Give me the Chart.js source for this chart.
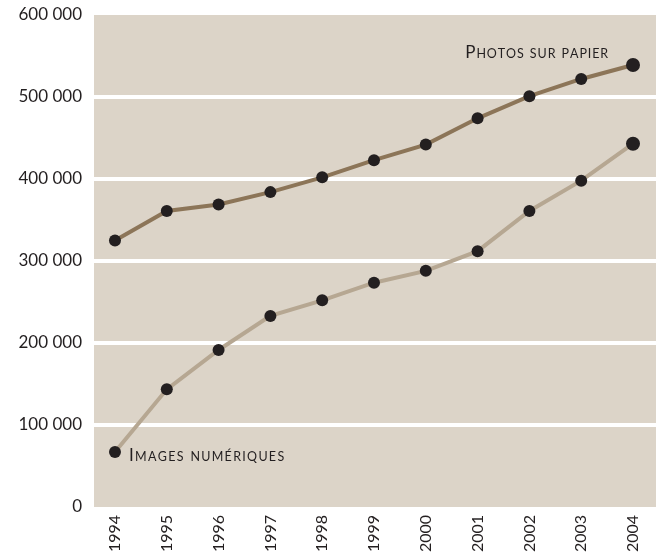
<!DOCTYPE html>
<html>
<head>
<meta charset="utf-8">
<script src="https://cdn.jsdelivr.net/npm/chart.js@4/dist/chart.umd.min.js"></script>
<style>
html,body{margin:0;padding:0;background:#fff;}
#wrap{width:656px;height:555px;position:relative;}
</style>
</head>
<body>
<div id="wrap"><canvas id="c" width="656" height="555"></canvas></div>
<script>
const years = [1994,1995,1996,1997,1998,1999,2000,2001,2002,2003,2004];
const photosPapier = [325000,361000,369000,384000,402000,423000,442000,474000,501000,522000,539000];
const imagesNumeriques = [67000,143500,191500,233000,252000,273500,288000,312000,361000,398000,443000];
const yTicks = [0,100000,200000,300000,400000,500000,600000];
const seriesLabels = ['Photos sur papier','Images numériques'];

const FONT = 'Lato, "Open Sans", sans-serif';
const INK = '#231f20';

function fmt(v){ return String(v).replace(/\B(?=(\d{3})+(?!\d))/g,' '); }

const bgPlugin = {
  id:'bg',
  beforeDraw(chart){
    const {ctx, chartArea:a} = chart;
    ctx.save();
    ctx.fillStyle = '#dcd4c8';
    ctx.fillRect(a.left, a.top, a.right - a.left, a.bottom - a.top);
    ctx.restore();
  }
};

function smallCaps(ctx, text, x, y, align, big, small, sp){
  const parts = [];
  for (const ch of text){
    const isLower = ch !== ch.toUpperCase();
    parts.push({t: isLower ? ch.toUpperCase() : ch, s: isLower ? small : big});
  }
  let w = 0;
  for (const p of parts){ ctx.font = p.s + 'px ' + FONT; w += ctx.measureText(p.t).width + sp; }
  w -= sp;
  let cx = align === 'right' ? x - w : x;
  ctx.textBaseline = 'alphabetic';
  ctx.textAlign = 'left';
  for (const p of parts){ ctx.font = p.s + 'px ' + FONT; ctx.fillText(p.t, cx, y); cx += ctx.measureText(p.t).width + sp; }
}

const labelPlugin = {
  id:'labels',
  afterDatasetsDraw(chart){
    const {ctx, scales:{x,y}} = chart;
    ctx.save();
    ctx.fillStyle = INK;
    smallCaps(ctx, seriesLabels[0], x.getPixelForValue(2003.52), y.getPixelForValue(547000), 'right', 17, 12.5, 0.9);
    smallCaps(ctx, seriesLabels[1], x.getPixelForValue(1994.27), y.getPixelForValue(56500), 'left', 17, 12.5, 1.3);
    ctx.restore();
  }
};

const lastBig = (n) => (ctx) => ctx.dataIndex === n - 1 ? 7 : 6;

function zeroPad(s, sides){
  for (const k of sides){
    s['padding' + k] = 0;
    if (s._margins) s._margins[k.toLowerCase()] = 0;
  }
}

new Chart(document.getElementById('c'), {
  type:'line',
  data:{
    datasets:[
      {label:seriesLabels[0], data: years.map((yr,i)=>({x:yr,y:photosPapier[i]})),
       borderColor:'#8c7558', borderWidth:4, pointBackgroundColor:INK, pointBorderColor:INK,
       pointBorderWidth:0, pointRadius:lastBig(years.length), tension:0, clip:false},
      {label:seriesLabels[1], data: years.map((yr,i)=>({x:yr,y:imagesNumeriques[i]})),
       borderColor:'#b6a792', borderWidth:4, pointBackgroundColor:INK, pointBorderColor:INK,
       pointBorderWidth:0, pointRadius:lastBig(years.length), tension:0, clip:false}
    ]
  },
  options:{
    responsive:false, animation:false, devicePixelRatio:1,
    layout:{autoPadding:false, padding:{top:15,right:0,left:0,bottom:0}},
    plugins:{legend:{display:false}, tooltip:{enabled:false}},
    scales:{
      x:{type:'linear', min:1993.595, max:2004.444,
         afterBuildTicks(s){ s.ticks = years.map(v=>({value:v})); },
         afterFit(s){ s.height = 48; zeroPad(s, ['Left','Right']); },
         border:{display:false},
         grid:{display:false, drawTicks:false},
         ticks:{minRotation:90, maxRotation:90, autoSkip:false, padding:8, color:INK,
                font:{family:FONT, size:16}, callback:(v)=>String(v)}},
      y:{min:0, max:600000,
         afterBuildTicks(s){ s.ticks = yTicks.map(v=>({value:v})); },
         afterFit(s){ s.width = 94; zeroPad(s, ['Top','Bottom']); },
         border:{display:false},
         grid:{drawTicks:false, tickLength:0, lineWidth:4,
               color:(c)=> (c.tick && (c.tick.value===0 || c.tick.value===600000)) ? 'rgba(0,0,0,0)' : '#ffffff'},
         ticks:{padding:12, color:INK, font:{family:FONT, size:17}, callback:(v)=>fmt(v)}}
    }
  },
  plugins:[bgPlugin, labelPlugin]
});
</script>
</body>
</html>
